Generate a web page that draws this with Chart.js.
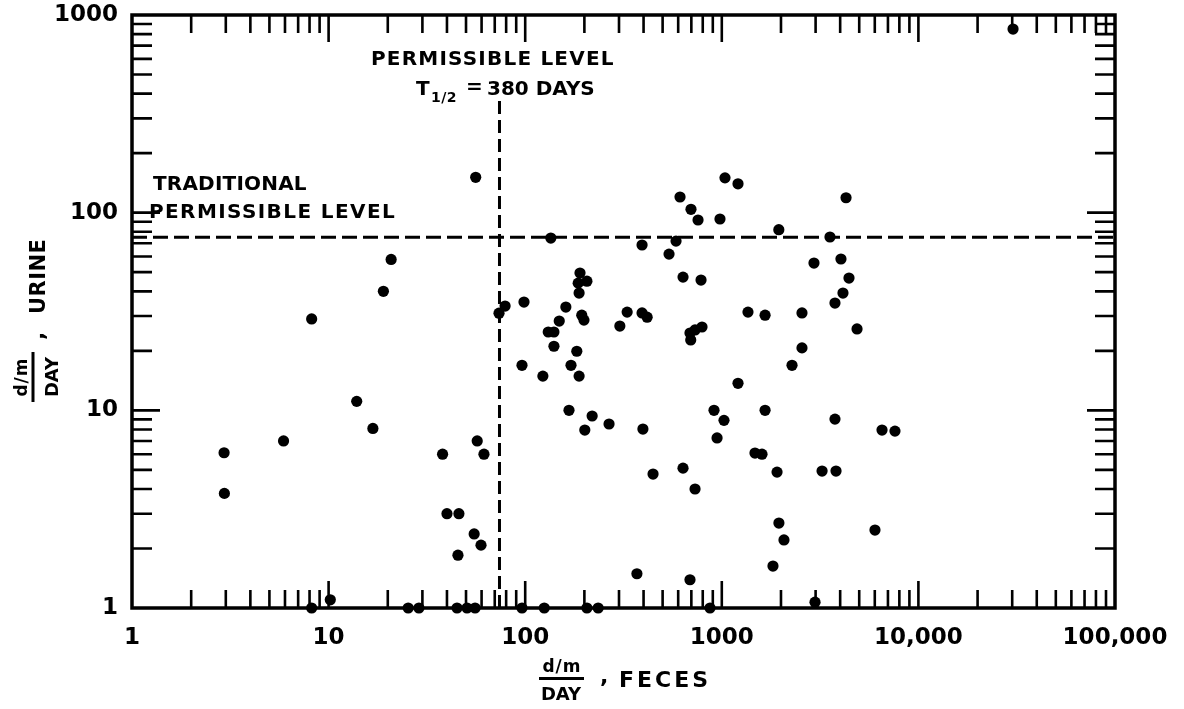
<!DOCTYPE html>
<html>
<head>
<meta charset="utf-8">
<script src="https://cdn.jsdelivr.net/npm/chart.js@4/dist/chart.umd.min.js"></script>
<style>
html,body{margin:0;padding:0;background:#fff;}
#wrap{width:1184px;height:709px;position:relative;}
</style>
</head>
<body>
<div id="wrap"><canvas id="c" width="1184" height="709"></canvas></div>
<script>
// ---- data ----
const fecesValues = [
  2.94, 2.95, 5.9, 8.2, 13.9, 16.8, 19.0, 20.8, 56, 38, 40, 46, 45.5, 55, 59.6, 57, 61.7,
  73.6, 79, 98.6, 135, 190, 186, 206, 188, 161, 194, 199, 149, 131, 140, 140, 183, 96.3,
  171, 123, 188, 167, 219, 201, 267, 330, 303, 393, 417, 393, 539, 585, 635, 784, 689,
  695, 731, 793, 397, 447, 635, 731, 370, 689, 613, 697, 757, 979, 1038, 1209, 1359,
  1660, 1209, 913, 1026, 1660, 946, 1475, 1601, 1910, 1821, 1952, 2071, 1950, 3550,
  2944, 4037, 4436, 4133, 3764, 2558, 4873, 2558, 2276, 3764, 6530, 7600, 3236, 3810,
  6013, 4285, 30300,
  8.2, 10.2, 25.4, 28.8, 45, 50.6, 55.6, 96.3, 125, 206, 235, 871, 2980
];
const urineValues = [
  6.1, 3.8, 7.0, 29, 11.1, 8.1, 40, 58, 151, 6.0, 3.0, 3.0, 1.85, 2.37, 2.08, 7.0, 6.0,
  31, 33.7, 35.3, 74.4, 49.5, 44, 45, 39.2, 33.3, 30.3, 28.6, 28.3, 24.9, 24.9, 21.1, 19.9, 16.9,
  16.9, 14.9, 14.9, 10, 9.36, 7.95, 8.53, 31.4, 26.7, 31.1, 29.6, 68.6, 61.7, 71.8, 47.2, 45.6, 24.6,
  22.7, 25.5, 26.4, 8.04, 4.76, 5.1, 4.0, 1.49, 1.39, 120, 104, 91.8, 92.9, 150, 140, 31.4,
  30.3, 13.7, 10, 8.9, 10, 7.25, 6.08, 6.0, 4.87, 1.63, 2.69, 2.21, 82, 75.3,
  55.6, 58.3, 46.7, 39.2, 34.9, 31.1, 25.8, 20.7, 16.9, 9.03, 7.95, 7.85, 4.93, 4.93,
  2.48, 119, 849,
  1.0, 1.1, 1.0, 1.0, 1.0, 1.0, 1.0, 1.0, 1.0, 1.0, 1.0, 1.0, 1.07
];
const xTickValues = [1, 10, 100, 1000, 10000, 100000];
const xTickLabels = ['1', '10', '100', '1000', '10,000', '100,000'];
const yTickValues = [1, 10, 100, 1000];
const yTickLabels = ['1', '10', '100', '1000'];
const xRange = [1, 100000];
const yRange = [1, 1000];
const permissibleFeces = 74;      // vertical dashed line (T1/2 = 380 days)
const permissibleTop = 380;       // top of vertical dashed line
const traditionalUrine = 75;      // horizontal dashed line

const FONT = '"DejaVu Sans", Verdana, sans-serif';

const points = fecesValues.map((x, i) => ({x: x, y: urineValues[i]}));

const framePlugin = {
  id: 'frame',
  beforeDatasetsDraw(chart) {
    const ctx = chart.ctx, a = chart.chartArea;
    const xs = chart.scales.x, ys = chart.scales.y;
    ctx.save();
    ctx.strokeStyle = '#000';
    ctx.lineCap = 'butt';
    ctx.lineWidth = 3.5;
    ctx.strokeRect(a.left, a.top, a.right - a.left, a.bottom - a.top);
    ctx.lineWidth = 2.6;
    for (let d = 1; d < xRange[1]; d *= 10) {
      for (let k = 1; k <= 9; k++) {
        const v = d * k;
        if (v <= xRange[0] || v >= xRange[1]) continue;
        const px = xs.getPixelForValue(v);
        const len = k === 1 ? 27 : 18;
        ctx.beginPath();
        ctx.moveTo(px, a.bottom); ctx.lineTo(px, a.bottom - len);
        ctx.moveTo(px, a.top); ctx.lineTo(px, a.top + len);
        ctx.stroke();
      }
    }
    for (let d = 1; d < yRange[1]; d *= 10) {
      for (let k = 1; k <= 9; k++) {
        const v = d * k;
        if (v <= yRange[0] || v >= yRange[1]) continue;
        const py = ys.getPixelForValue(v);
        const len = k === 1 ? 28 : 20;
        ctx.beginPath();
        ctx.moveTo(a.left, py); ctx.lineTo(a.left + len, py);
        ctx.moveTo(a.right, py); ctx.lineTo(a.right - len, py);
        ctx.stroke();
      }
    }
    ctx.restore();
  },
  afterDraw(chart) {
    const ctx = chart.ctx;
    ctx.save();
    ctx.fillStyle = '#000';
    ctx.textBaseline = 'alphabetic';
    ctx.textAlign = 'left';
    // annotations
    ctx.font = 'bold 20px ' + FONT;
    ctx.letterSpacing = '1.2px';
    ctx.fillText('PERMISSIBLE LEVEL', 371, 65);
    ctx.letterSpacing = '0px';
    ctx.fillText('T', 416, 95);
    ctx.fillText('=', 466, 93);
    ctx.fillText('380 DAYS', 487, 95);
    ctx.font = 'bold 14px ' + FONT;
    ctx.letterSpacing = '0.5px';
    ctx.fillText('1/2', 431, 102);
    ctx.font = 'bold 20px ' + FONT;
    ctx.letterSpacing = '0.2px';
    ctx.fillText('TRADITIONAL', 153, 190);
    ctx.letterSpacing = '1.4px';
    ctx.fillText('PERMISSIBLE LEVEL', 149, 218);

    // x axis title
    ctx.textAlign = 'center';
    ctx.font = 'bold 17px ' + FONT;
    ctx.letterSpacing = '1px';
    ctx.fillText('d/m', 562, 672);
    ctx.font = 'bold 18px ' + FONT;
    ctx.letterSpacing = '0px';
    ctx.fillText('DAY', 561, 700);
    ctx.fillRect(539, 677, 45, 3);
    ctx.textAlign = 'left';
    ctx.font = 'bold 22px ' + FONT;
    ctx.fillText(',', 600, 683);
    ctx.letterSpacing = '3px';
    ctx.fillText('FECES', 619, 687);

    // y axis title (rotated)
    ctx.translate(33, 377);
    ctx.rotate(-Math.PI / 2);
    ctx.textAlign = 'center';
    ctx.font = 'bold 17px ' + FONT;
    ctx.letterSpacing = '1px';
    ctx.fillText('d/m', 0, -6);
    ctx.font = 'bold 18px ' + FONT;
    ctx.letterSpacing = '0px';
    ctx.fillText('DAY', 0, 25);
    ctx.fillRect(-25, -1.5, 50, 3);
    ctx.textAlign = 'left';
    ctx.font = 'bold 22px ' + FONT;
    ctx.fillText(',', 37, 11);
    ctx.font = 'bold 21px ' + FONT;
    ctx.letterSpacing = '0.5px';
    ctx.fillText('URINE', 63, 12);
    ctx.restore();
  }
};

new Chart(document.getElementById('c'), {
  type: 'scatter',
  data: {
    datasets: [
      {
        label: 'samples',
        data: points,
        pointRadius: 5.6,
        pointBackgroundColor: '#000',
        pointBorderWidth: 0,
        clip: false
      },
      {
        type: 'line',
        label: 'traditional',
        data: [{x: xRange[0], y: traditionalUrine}, {x: xRange[1], y: traditionalUrine}],
        borderColor: '#000',
        borderWidth: 3,
        borderDash: [15, 6],
        pointRadius: 0,
        fill: false
      },
      {
        type: 'line',
        label: 'permissible',
        data: [{x: permissibleFeces, y: yRange[0]}, {x: permissibleFeces, y: permissibleTop}],
        borderColor: '#000',
        borderWidth: 3,
        borderDash: [13, 6],
        pointRadius: 0,
        fill: false
      }
    ]
  },
  options: {
    responsive: false,
    animation: false,
    events: [],
    layout: {padding: {top: 15, right: 69, left: 0, bottom: 0}},
    plugins: {legend: {display: false}, tooltip: {enabled: false}},
    scales: {
      x: {
        type: 'logarithmic',
        min: xRange[0], max: xRange[1],
        grid: {display: false, drawTicks: false},
        border: {display: false},
        afterBuildTicks(s) { s.ticks = xTickValues.map(v => ({value: v})); },
        afterFit(s) { s.height = 101; s.paddingLeft = 0; s.paddingRight = 0; },
        ticks: {
          autoSkip: false, maxRotation: 0,
          padding: 16,
          color: '#000',
          font: {family: FONT, size: 23, weight: 'bold'},
          callback: (v, i) => xTickLabels[i]
        }
      },
      y: {
        type: 'logarithmic',
        min: yRange[0], max: yRange[1],
        grid: {display: false, drawTicks: false},
        border: {display: false},
        afterBuildTicks(s) { s.ticks = yTickValues.map(v => ({value: v})); },
        afterFit(s) { s.width = 132; s.paddingTop = 0; s.paddingBottom = 0; },
        ticks: {
          autoSkip: false,
          padding: 14,
          color: '#000',
          font: {family: FONT, size: 23, weight: 'bold'},
          callback: (v, i) => yTickLabels[i]
        }
      }
    }
  },
  plugins: [framePlugin]
});
</script>
</body>
</html>
